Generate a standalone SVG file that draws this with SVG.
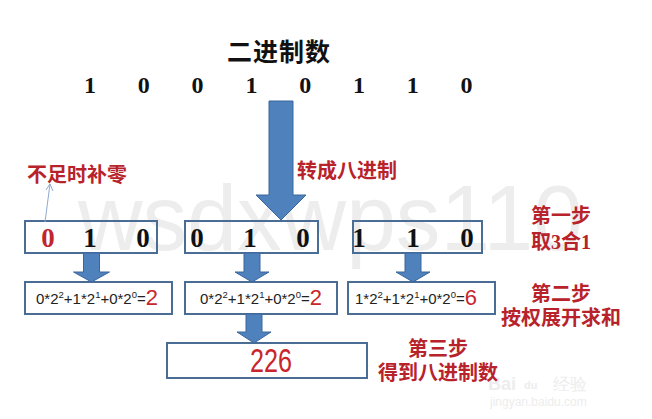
<svg xmlns="http://www.w3.org/2000/svg" width="652" height="419" viewBox="0 0 652 419">
<style>
.wm{font-family:"Liberation Sans",Arial,sans-serif;fill:#ededed}
.title{font-family:"Liberation Serif","Noto Sans CJK SC",serif;font-weight:700;font-size:25px;fill:#111}
.dig{font-family:"Liberation Serif",serif;font-weight:700;font-size:24px;fill:#111;text-anchor:middle}
.bdig{font-family:"Liberation Serif",serif;font-weight:700;font-size:27px;fill:#111;text-anchor:middle}
.redd{fill:#c0262d}
.lbl{font-family:"Liberation Serif","Noto Sans CJK SC",serif;font-weight:700;font-size:20px;fill:#b8232b}
.mid{text-anchor:middle}
.box{fill:none;stroke:#4a6d96;stroke-width:2}
.fx{font-family:"Liberation Sans",Arial,sans-serif;font-size:15px;fill:#222}
.sup{font-size:9.5px}
.res{font-family:"Liberation Sans",Arial,sans-serif;font-size:22px;fill:#c8262c}
.arr{fill:#4f81bd;stroke:#3a679c;stroke-width:1}
</style>
<rect width="652" height="419" fill="#fff"/>
<g id="watermark">
<text class="wm" x="78" y="250" font-size="92" textLength="505" lengthAdjust="spacingAndGlyphs">wsdxwps110</text>
<text class="wm" x="488" y="390" font-size="18" font-weight="700">Bai</text>
<text class="wm" x="524" y="389" font-size="11" font-weight="700">du</text>
<text class="wm" x="553" y="390" font-family="Noto Sans CJK SC,sans-serif" font-size="17">经验</text>
<text class="wm" x="490" y="406" font-size="12">jingyan.baidu.com</text>
</g>
<g id="title"><text class="title" x="227" y="61" letter-spacing="1">二进制数</text></g>
<g id="binary">
<text class="dig" x="90" y="93">1</text>
<text class="dig" x="143.8" y="93">0</text>
<text class="dig" x="197.6" y="93">0</text>
<text class="dig" x="251.4" y="93">1</text>
<text class="dig" x="305.2" y="93">0</text>
<text class="dig" x="359" y="93">1</text>
<text class="dig" x="412.8" y="93">1</text>
<text class="dig" x="466.6" y="93">0</text>
</g>
<g id="label-convert"><text class="lbl" x="297" y="178">转成八进制</text></g>
<g id="label-pad"><text class="lbl" x="27" y="182">不足时补零</text></g>
<g id="label-step1"><text class="lbl mid" x="561" y="223">第一步</text><text class="lbl mid" x="561" y="249">取3合1</text></g>
<g id="label-step2"><text class="lbl mid" x="561" y="301">第二步</text><text class="lbl mid" x="561" y="325">按权展开求和</text></g>
<g id="label-step3"><text class="lbl mid" x="438" y="356">第三步</text><text class="lbl mid" x="438" y="380">得到八进制数</text></g>
<g id="group1"><rect class="box" x="25" y="221" width="132" height="32"/>
<text class="bdig redd" x="48" y="247">0</text><text class="bdig" x="90" y="247">1</text><text class="bdig" x="143" y="247">0</text></g>
<g id="group2"><rect class="box" x="185" y="221" width="133" height="32"/>
<text class="bdig" x="197" y="247">0</text><text class="bdig" x="250" y="247">1</text><text class="bdig" x="303" y="247">0</text></g>
<g id="group3"><rect class="box" x="353" y="221" width="129" height="32"/>
<text class="bdig" x="359" y="247">1</text><text class="bdig" x="413" y="247">1</text><text class="bdig" x="467" y="247">0</text></g>
<g id="sum1"><rect class="box" x="25" y="282" width="147" height="32"/>
<text class="fx" x="36" y="304">0*2<tspan class="sup" dy="-6">2</tspan><tspan dy="6">+1*2</tspan><tspan class="sup" dy="-6">1</tspan><tspan dy="6">+0*2</tspan><tspan class="sup" dy="-6">0</tspan><tspan dy="6">=</tspan><tspan class="res" dy="1">2</tspan></text></g>
<g id="sum2"><rect class="box" x="185" y="282" width="152" height="32"/>
<text class="fx" x="200" y="304">0*2<tspan class="sup" dy="-6">2</tspan><tspan dy="6">+1*2</tspan><tspan class="sup" dy="-6">1</tspan><tspan dy="6">+0*2</tspan><tspan class="sup" dy="-6">0</tspan><tspan dy="6">=</tspan><tspan class="res" dy="1">2</tspan></text></g>
<g id="sum3"><rect class="box" x="348" y="282" width="147" height="32"/>
<text class="fx" x="355" y="304">1*2<tspan class="sup" dy="-6">2</tspan><tspan dy="6">+1*2</tspan><tspan class="sup" dy="-6">1</tspan><tspan dy="6">+0*2</tspan><tspan class="sup" dy="-6">0</tspan><tspan dy="6">=</tspan><tspan class="res" dy="1">6</tspan></text></g>
<g id="result"><rect class="box" x="167" y="343" width="200" height="35"/>
<text x="271" y="372" font-family="Liberation Sans,Arial,sans-serif" font-size="33" fill="#c8262c" text-anchor="middle" textLength="42" lengthAdjust="spacingAndGlyphs">226</text></g>
<g id="connectors">
<path class="arr" d="M269,101 H293 V195 H306 L281,220 L256,195 H269 Z"/>
<path class="arr" d="M83.5,253 H99.5 V272 H109.5 L91.5,282 L73.5,272 H83.5 Z"/>
<path class="arr" d="M244,253 H260 V272 H269 L252,282 L235,272 H244 Z"/>
<path class="arr" d="M405,253 H421 V272 H430 L413,282 L396,272 H405 Z"/>
<path class="arr" d="M246,314 H262 V332 H271 L254,343 L237,332 H246 Z"/>
<path d="M45,222 L50,184 M46,190 L50,184 L53,191" fill="none" stroke="#8eaad0" stroke-width="1"/>
</g>
</svg>
